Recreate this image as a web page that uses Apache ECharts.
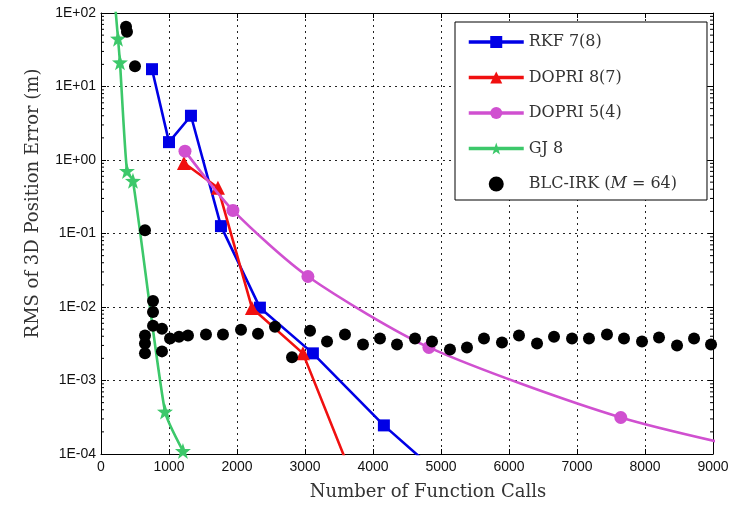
<!DOCTYPE html>
<html>
<head>
<meta charset="utf-8">
<script src="https://cdn.jsdelivr.net/npm/echarts@6/dist/echarts.min.js"></script>
<style>html,body{margin:0;padding:0;background:#fff;}#c{width:746px;height:506px;}</style>
</head>
<body>
<div id="c"></div>
<script>
// ---- data ----
const xTicks = [0, 1000, 2000, 3000, 4000, 5000, 6000, 7000, 8000, 9000];
const yTickLabels = {'-4':'1E-04','-3':'1E-03','-2':'1E-02','-1':'1E-01','0':'1E+00','1':'1E+01','2':'1E+02'};

const rkfX = [750, 1000, 1323, 1764, 2337, 3116, 4160, 5000];
const rkfY = [17.2, 1.75, 4.0, 0.126, 0.0098, 0.00234, 0.000245, 0.0000507];

const dp87X = [1220, 1720, 2220, 2970, 3700];
const dp87Y = [0.91, 0.42, 0.0097, 0.00234, 0.000048];

const dp54X = [1235, 1940, 3043, 4822, 7644, 10500];
const dp54Y = [1.32, 0.206, 0.026, 0.00282, 0.000314, 0.000075];

const gjX = [126, 250, 279, 382, 470, 941, 1205];
const gjY = [1000, 44.8, 21.3, 0.71, 0.52, 0.000378, 0.00011];

const blcX = [368, 382, 500, 647, 765, 765, 765, 897, 647, 647, 647, 897, 1015, 1147, 1279, 1544, 1794,
  2059, 2309, 2559, 2809, 3074, 3324, 3588, 3853, 4103, 4353, 4618, 4868, 5132, 5382, 5632, 5897,
  6147, 6412, 6662, 6927, 7176, 7441, 7691, 7956, 8206, 8471, 8721, 8971];
const blcY = [64.9, 55.6, 18.8, 0.111, 0.01205, 0.00857, 0.00556, 0.00507, 0.00408, 0.00319, 0.00234, 0.00249,
  0.00372, 0.00395, 0.00408, 0.00421, 0.00421,
  0.00491, 0.00434, 0.00539, 0.00207, 0.00476, 0.00339, 0.00421, 0.00309, 0.00372, 0.00309, 0.00372, 0.00339,
  0.00265, 0.00282, 0.00372, 0.00329, 0.00408, 0.00319, 0.00395, 0.00372, 0.00372, 0.00421, 0.00372, 0.00339,
  0.00384, 0.00300, 0.00372, 0.00309];

const names = ['RKF 7(8)', 'DOPRI 8(7)', 'DOPRI 5(4)', 'GJ 8', 'BLC-IRK (M = 64)'];
const colors = ['#0000e6', '#f01010', '#d050d0', '#3cc86a', '#000000'];

// minor log ticks (axis decoration)
const minorTicks = [];
for (let e = -4; e < 2; e++) for (let m = 2; m <= 9; m++) minorTicks.push([0, m * Math.pow(10, e)]);

const zip = (xs, ys) => xs.map((x, i) => [x, ys[i]]);

const chart = echarts.init(document.getElementById('c'), null, {renderer: 'canvas'});
const serif = 'DejaVu Serif';
const sans = 'Liberation Sans';

function lineSeries(i, xs, ys, symbol, size, smooth) {
  return {
    name: names[i], type: 'line', data: zip(xs, ys), symbol: symbol, symbolSize: size,
    smooth: smooth || false,
    lineStyle: {color: colors[i], width: 2.6}, itemStyle: {color: colors[i]},
    clip: true, z: 3 + i
  };
}

const option = {
  animation: false,
  backgroundColor: '#fff',
  grid: {left: 101, right: 33, top: 13, bottom: 47, containLabel: false},
  xAxis: [{
    type: 'value', min: 0, max: 9000, interval: 1000, position: 'bottom',
    axisLine: {show: true, onZero: false, lineStyle: {color: '#000', width: 1}},
    axisTick: {show: true, inside: true, length: 5, lineStyle: {color: '#000'}},
    axisLabel: {color: '#111', fontFamily: sans, fontSize: 14, margin: 6, formatter: v => String(v)},
    splitLine: {show: true, lineStyle: {color: '#222', type: [2, 4], width: 1}},
    name: 'Number of Function Calls', nameLocation: 'middle', nameGap: 29,
    nameTextStyle: {fontFamily: serif, fontSize: 18, color: '#333', padding: [0, 0, 0, 42]}
  }, {
    type: 'value', min: 0, max: 9000, interval: 1000, position: 'top',
    axisLine: {show: true, onZero: false, lineStyle: {color: '#000', width: 1}},
    axisTick: {show: true, inside: true, length: 5, lineStyle: {color: '#000'}},
    axisLabel: {show: false}, splitLine: {show: false}
  }],
  yAxis: [{
    type: 'log', min: 1e-4, max: 1e2, logBase: 10, position: 'left',
    axisLine: {show: true, onZero: false, lineStyle: {color: '#000', width: 1}},
    axisTick: {show: true, inside: true, length: 5, lineStyle: {color: '#000'}},
    axisLabel: {color: '#111', fontFamily: sans, fontSize: 14, margin: 5,
      formatter: v => yTickLabels[String(Math.round(Math.log10(v)))] || ''},
    splitLine: {show: true, lineStyle: {color: '#222', type: [2, 4], width: 1}},
    name: 'RMS of 3D Position Error (m)', nameLocation: 'middle', nameGap: 59, nameRotate: 90,
    nameTextStyle: {fontFamily: serif, fontSize: 18, color: '#333', padding: [0, 0, 0, 60]}
  }, {
    type: 'log', min: 1e-4, max: 1e2, logBase: 10, position: 'right',
    axisLine: {show: true, onZero: false, lineStyle: {color: '#000', width: 1}},
    axisTick: {show: true, inside: true, length: 5, lineStyle: {color: '#000'}},
    axisLabel: {show: false}, splitLine: {show: false}
  }],
  legend: {
    orient: 'vertical', left: 455, top: 22,
    data: names,
    itemWidth: 55, itemHeight: 15, itemGap: 19.5,
    padding: [12, 30, 8, 12],
    borderColor: '#000', borderWidth: 1, backgroundColor: '#fff',
    lineStyle: {width: 3.5},
    textStyle: {fontFamily: serif, fontSize: 16, color: '#333',
      rich: {i: {fontFamily: serif, fontStyle: 'italic', fontSize: 16, color: '#333'}}},
    formatter: n => n === names[4] ? 'BLC-IRK ({i|M} = 64)' : n
  },
  series: [
    lineSeries(0, rkfX, rkfY, 'rect', 12),
    lineSeries(1, dp87X, dp87Y, 'triangle', 14),
    lineSeries(2, dp54X, dp54Y, 'circle', 13, 0.25),
    {
      name: names[3], type: 'line', data: zip(gjX, gjY),
      symbol: 'path://M0,-10L2.35,-3.24L9.51,-3.09L3.8,1.24L5.88,8.09L0,4L-5.88,8.09L-3.8,1.24L-9.51,-3.09L-2.35,-3.24Z',
      symbolSize: 16, smooth: 0.2,
      lineStyle: {color: colors[3], width: 2.6}, itemStyle: {color: colors[3]}, clip: true, z: 6
    },
    {
      name: names[4], type: 'scatter', data: zip(blcX, blcY), symbol: 'circle', symbolSize: 12,
      itemStyle: {color: '#000', opacity: 1}, clip: true, z: 8
    },
    {
      type: 'custom', data: minorTicks, silent: true, clip: false, z: 2,
      renderItem: (params, api) => {
        const y = api.coord([0, api.value(1)])[1];
        const cs = params.coordSys;
        return {type: 'group', children: [
          {type: 'line', shape: {x1: cs.x, y1: y, x2: cs.x + 3, y2: y}, style: {stroke: '#000', lineWidth: 1}},
          {type: 'line', shape: {x1: cs.x + cs.width - 3, y1: y, x2: cs.x + cs.width, y2: y}, style: {stroke: '#000', lineWidth: 1}}
        ]};
      }
    }
  ]
};
chart.setOption(option);
</script>
</body>
</html>
